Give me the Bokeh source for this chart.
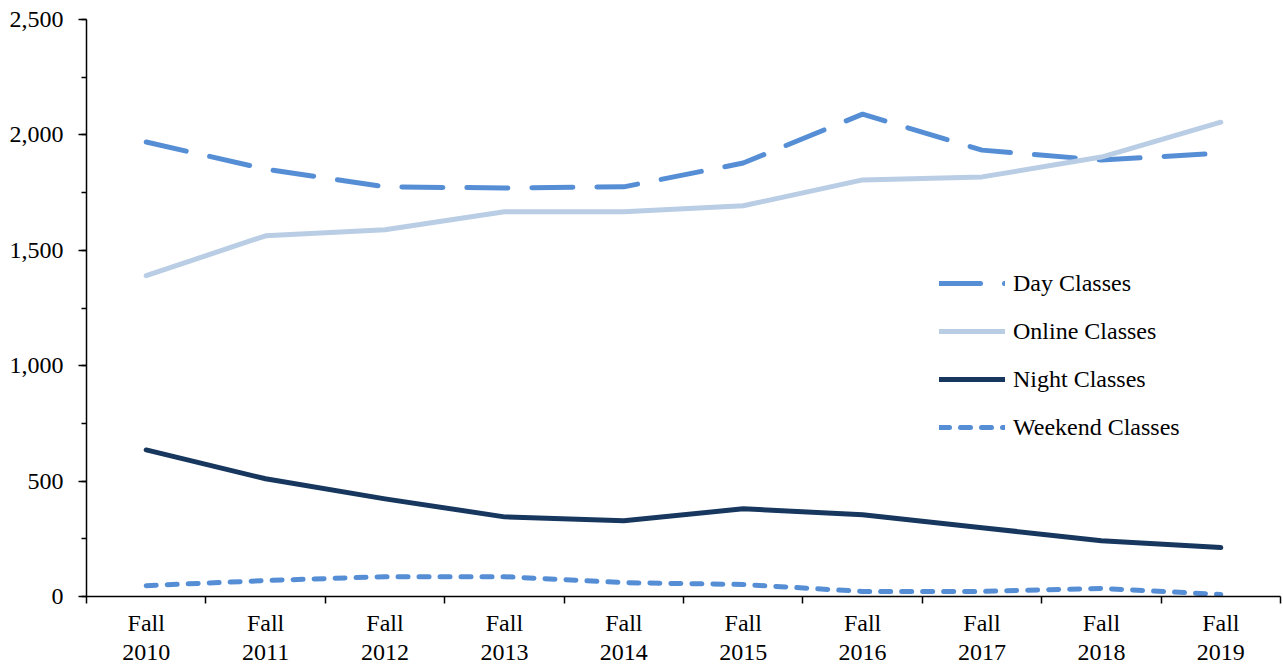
from bokeh.plotting import figure
from bokeh.models import (Range1d, FixedTicker, SingleIntervalTicker, NumeralTickFormatter,
                          Legend, LegendItem)
from bokeh.embed import file_html
from bokeh.resources import INLINE

years = ["2010", "2011", "2012", "2013", "2014", "2015", "2016", "2017", "2018", "2019"]
day = [1969, 1852, 1775, 1770, 1775, 1878, 2090, 1934, 1891, 1921]
online = [1390, 1563, 1589, 1667, 1667, 1693, 1805, 1818, 1904, 2055]
night = [635, 510, 423, 345, 328, 380, 354, 298, 242, 212]
weekend = [47, 69, 86, 86, 60, 52, 22, 22, 35, 9]

idx = list(range(len(years)))
FONT = "Liberation Serif"

p = figure(width=1283, height=668, output_backend="svg", toolbar_location=None,
           x_range=Range1d(-0.5, len(years) - 0.5), y_range=Range1d(0, 2500),
           min_border_left=86, min_border_right=3, min_border_top=19, min_border_bottom=70)
p.outline_line_color = None
p.xgrid.grid_line_color = None
p.ygrid.grid_line_color = None
p.background_fill_color = "white"
p.border_fill_color = "white"

r_day = p.line(idx, day, line_color="#558ED5", line_width=5, line_dash="41 24", line_cap="round")
r_online = p.line(idx, online, line_color="#B9CDE5", line_width=5, line_cap="round", line_join="round")
r_night = p.line(idx, night, line_color="#17375E", line_width=5, line_cap="round", line_join="round")
r_week = p.line(idx, weekend, line_color="#558ED5", line_width=5, line_dash="10 11", line_cap="round")

# x axis
xa = p.xaxis[0]
xa.ticker = FixedTicker(ticks=idx, minor_ticks=[i - 0.5 for i in range(len(years) + 1)])
xa.major_label_overrides = {i: f"Fall\n{y}" for i, y in zip(idx, years)}
xa.major_tick_out = 0
xa.major_tick_in = 0
xa.minor_tick_out = 7
xa.minor_tick_in = 0
xa.minor_tick_line_color = "black"
xa.minor_tick_line_width = 1.5
xa.axis_line_color = "black"
xa.axis_line_width = 1.5
xa.major_label_text_font = FONT
xa.major_label_text_font_size = "24px"
xa.major_label_text_line_height = 1.15
xa.major_label_text_color = "black"
xa.major_label_standoff = 6

# y axis
ya = p.yaxis[0]
ya.ticker = SingleIntervalTicker(interval=500, num_minor_ticks=2)
ya.formatter = NumeralTickFormatter(format="0,0")
ya.major_tick_out = 8
ya.major_tick_in = 0
ya.minor_tick_out = 5
ya.minor_tick_in = 0
ya.major_tick_line_width = 1.5
ya.minor_tick_line_width = 1.5
ya.major_tick_line_color = "black"
ya.minor_tick_line_color = "black"
ya.axis_line_color = "black"
ya.axis_line_width = 1.5
ya.major_label_text_font = FONT
ya.major_label_text_font_size = "24px"
ya.major_label_text_color = "black"
ya.major_label_standoff = 15

legend = Legend(items=[
    LegendItem(label="Day Classes", renderers=[r_day]),
    LegendItem(label="Online Classes", renderers=[r_online]),
    LegendItem(label="Night Classes", renderers=[r_night]),
    LegendItem(label="Weekend Classes", renderers=[r_week]),
], location=(853, 155))
legend.background_fill_alpha = 0
legend.border_line_color = None
legend.padding = 0
legend.margin = 0
legend.spacing = 20
legend.glyph_width = 66
legend.glyph_height = 28
legend.label_height = 28
legend.label_standoff = 8
legend.label_text_font = FONT
legend.label_text_font_size = "24px"
legend.label_text_color = "black"
p.add_layout(legend, "center")

open("out.html", "w").write(file_html(p, INLINE))
